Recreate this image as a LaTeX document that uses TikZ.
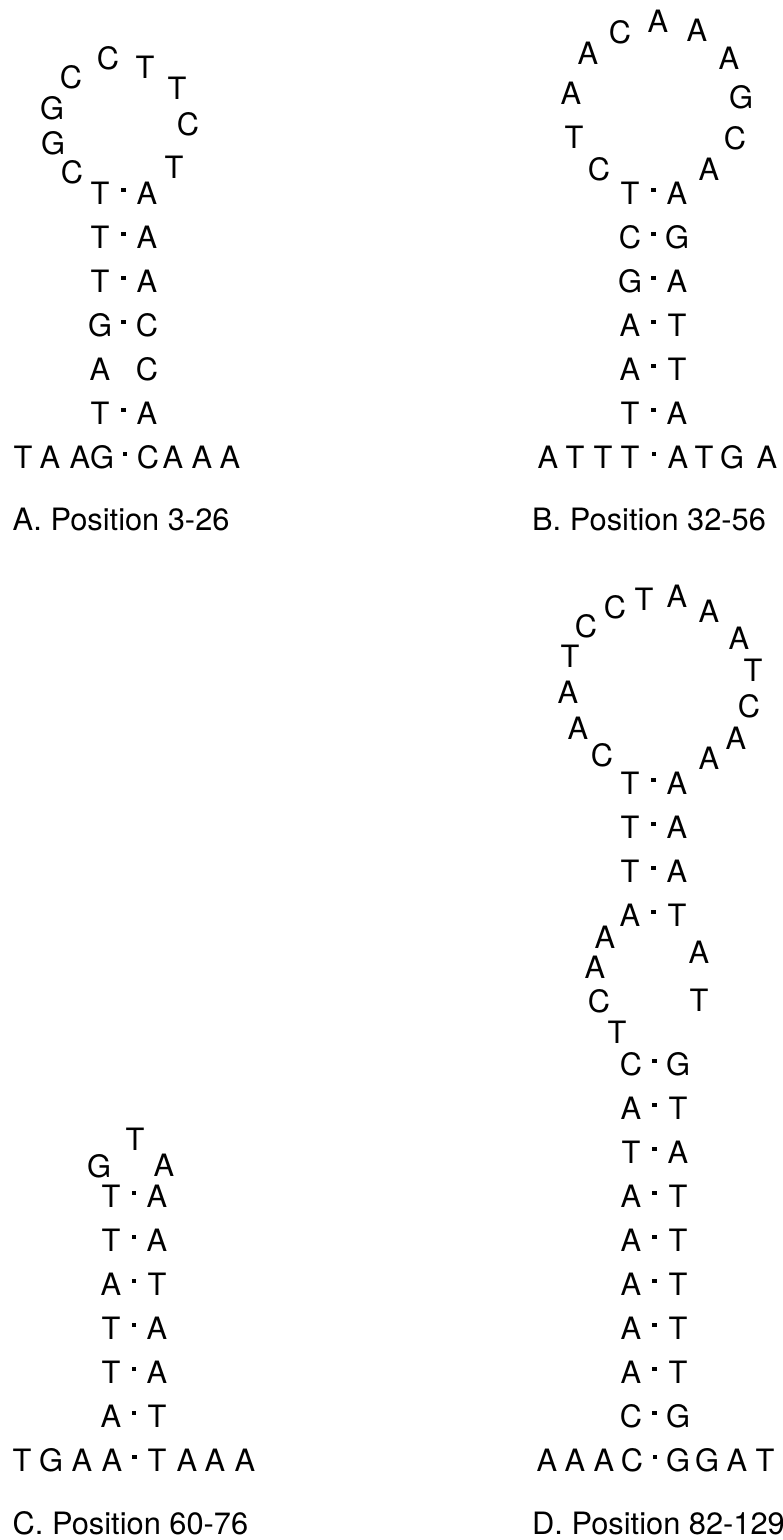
\documentclass[tikz,border=0pt]{standalone}
\usepackage{fontspec}
\setmainfont{TeX Gyre Heros}
\usetikzlibrary{calc}

\begin{document}
\begin{tikzpicture}[x=1pt,y=-1pt,
    font=\fontsize{30.8}{37}\selectfont,
    nuc/.style={inner sep=0pt, text height=22pt, text depth=0pt},
    bpdot/.style={fill, rectangle, inner sep=0pt, minimum size=4.5pt},
    lbl/.style={nuc, anchor=west}]
  \path[use as bounding box, fill=white] (0,0) rectangle (783,1540);

  % A
  \foreach \x/\y/\nt [count=\i] in {72/172/C, 53/143/G, 52/108/G, 71/77/C, 108/58/C,
                                     145/67/T, 177/88/T, 188/124/C, 174/167/T}
    {\node[nuc] (A-loop-\i) at (\x,\y) {\nt};}
  \foreach \lb/\rb [count=\k] in {T/A, T/A, T/A, G/C, A/C, T/A}
    {\node[nuc] (A-\k-1) at (100,149+44*\k) {\lb};
     \node[nuc] (A-\k-2) at (147,149+44*\k) {\rb};}
  \foreach \x/\nt [count=\i] in {23/T, 50/A, 80/A, 102/G, 148/C, 173/A, 202/A, 230/A}
    {\node[nuc] (A-tail-\i) at (\x,457) {\nt};}
  \foreach \k in {1,2,3,4,6}
    {\node[bpdot] at ($(A-\k-1)!.5!(A-\k-2)+(0,-3)$) {};}
  \node[bpdot] at ($(A-tail-4)!.5!(A-tail-5)+(0,-3)$) {};
  \node[lbl] (A-label) at (12.5,519) {A. Position 3-26};

  % B
  \foreach \x/\y/\nt [count=\i] in {599/169/C, 574/137/T, 571/93/A, 588/53/A, 620/32/C, 658/21/A,
                                     697/30/A, 729/58/A, 741/97/G, 735/138/C, 709/169/A}
    {\node[nuc] (B-loop-\i) at (\x,\y) {\nt};}
  \foreach \lb/\rb [count=\k] in {T/A, C/G, G/A, A/T, A/T, T/A}
    {\node[nuc] (B-\k-1) at (630,149+44*\k) {\lb};
     \node[nuc] (B-\k-2) at (677,149+44*\k) {\rb};
     \node[bpdot] at ($(B-\k-1)!.5!(B-\k-2)+(0,-3)$) {};}
  \foreach \x/\nt [count=\i] in {548/A, 575/T, 603/T, 630/T, 678/A, 704/T, 732/G, 767/A}
    {\node[nuc] (B-tail-\i) at (\x,457) {\nt};}
  \node[bpdot] at ($(B-tail-4)!.5!(B-tail-5)+(0,-3)$) {};
  \node[lbl] (B-label) at (532,519) {B. Position 32-56};

  % C
  \foreach \x/\y/\nt [count=\i] in {99/1166/G, 135/1139/T, 164/1165/A}
    {\node[nuc] (C-loop-\i) at (\x,\y) {\nt};}
  \foreach \lb/\rb [count=\k] in {T/A, T/A, A/T, T/A, T/A, A/T}
    {\node[nuc] (C-\k-1) at (111,1152+44*\k) {\lb};
     \node[nuc] (C-\k-2) at (157,1152+44*\k) {\rb};
     \node[bpdot] at ($(C-\k-1)!.5!(C-\k-2)+(0,-3)$) {};}
  \foreach \x/\nt [count=\i] in {22/T, 51/G, 82/A, 112/A, 157/T, 187/A, 215/A, 245/A}
    {\node[nuc] (C-tail-\i) at (\x,1460) {\nt};}
  \node[bpdot] at ($(C-tail-4)!.5!(C-tail-5)+(0,-3)$) {};
  \node[lbl] (C-label) at (12.5,1523) {C. Position 60-76};

  % D
  \foreach \x/\y/\nt [count=\i] in {602/755/C, 578/728/A, 568/692/A, 570/656/T, 586/626/C,
                                     615/607/C, 644/599/T, 677/596/A, 709/611/A, 739/638/A,
                                     753/670/T, 749/706/C, 736/738/A, 709/758/A}
    {\node[nuc] (D-loop-\i) at (\x,\y) {\nt};}
  \foreach \lb/\rb [count=\k] in {T/A, T/A, T/A, A/T}
    {\node[nuc] (D-top-\k-1) at (630,739+44*\k) {\lb};
     \node[nuc] (D-top-\k-2) at (677,739+44*\k) {\rb};
     \node[bpdot] at ($(D-top-\k-1)!.5!(D-top-\k-2)+(0,-3)$) {};}
  \foreach \x/\y/\nt [count=\i] in {605/937/A, 595/967/A, 599/1001/C, 617/1032/T,
                                     699/1000/T, 699/952/A}
    {\node[nuc] (D-bulge-\i) at (\x,\y) {\nt};}
  \foreach \lb/\rb [count=\k] in {C/G, A/T, T/A, A/T, A/T, A/T, A/T, A/T, C/G}
    {\node[nuc] (D-\k-1) at (631,1020+44*\k) {\lb};
     \node[nuc] (D-\k-2) at (678,1020+44*\k) {\rb};
     \node[bpdot] at ($(D-\k-1)!.5!(D-\k-2)+(0,-3)$) {};}
  \foreach \x/\nt [count=\i] in {547/A, 575/A, 604/A, 632/C, 678/G, 707/G, 737/A, 765/T}
    {\node[nuc] (D-tail-\i) at (\x,1460) {\nt};}
  \node[bpdot] at ($(D-tail-4)!.5!(D-tail-5)+(0,-3)$) {};
  \node[lbl] (D-label) at (532,1523) {D. Position 82-129};
\end{tikzpicture}
\end{document}
